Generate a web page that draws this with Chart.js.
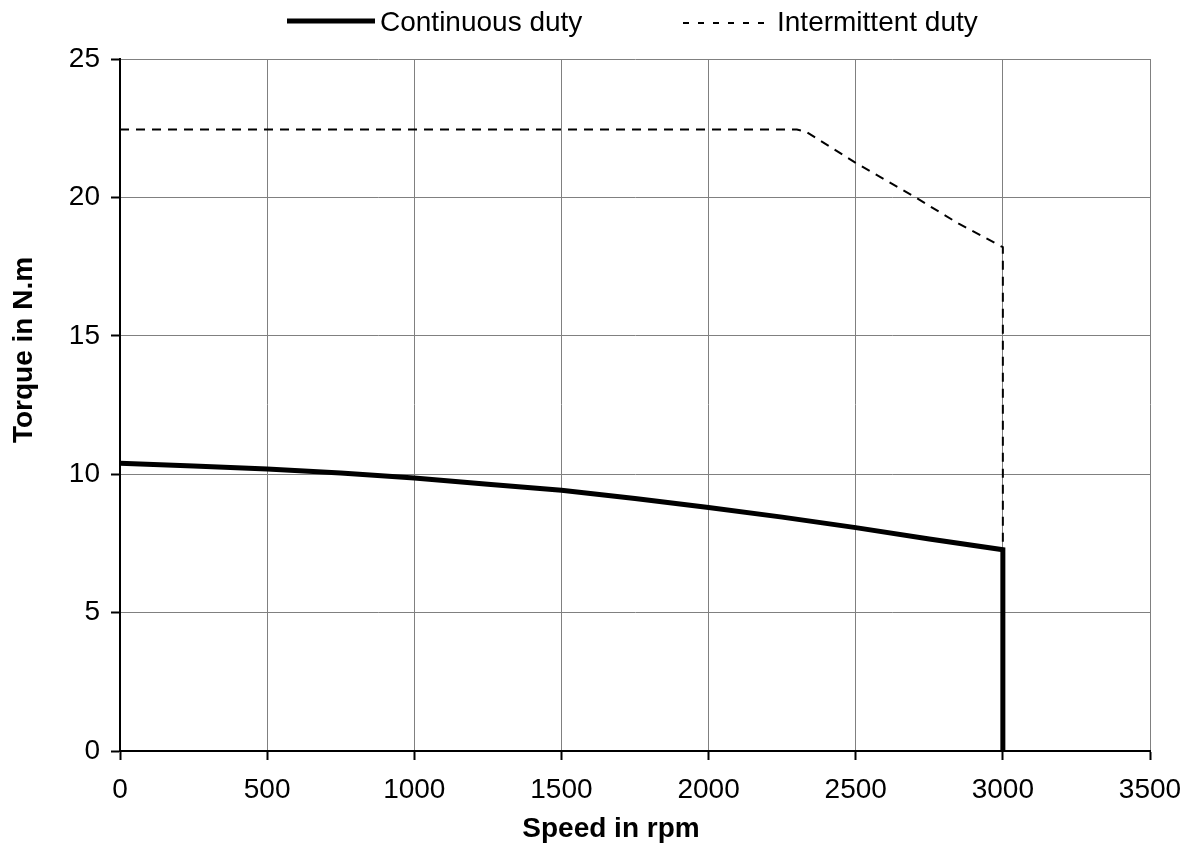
<!DOCTYPE html>
<html>
<head>
<meta charset="utf-8">
<script src="https://cdn.jsdelivr.net/npm/chart.js@4"></script>
<style>
  html, body { margin: 0; padding: 0; background: #fff; }
</style>
</head>
<body>
<canvas id="torqueChart" width="1190" height="845"></canvas>
<script>
const continuousSpeed = [0, 250, 500, 750, 1000, 1250, 1500, 1750, 2000, 2250, 2500, 2750, 3000, 3000];
const continuousTorque = [10.4, 10.3, 10.19, 10.04, 9.86, 9.64, 9.42, 9.12, 8.8, 8.45, 8.07, 7.66, 7.27, 0];
const intermittentSpeed = [0, 2300, 2330, 2500, 2700, 2850, 3000, 3000];
const intermittentTorque = [22.45, 22.45, 22.38, 21.25, 20.02, 19.05, 18.2, 7.27];
const xTicks = [0, 500, 1000, 1500, 2000, 2500, 3000, 3500];
const yTicks = [0, 5, 10, 15, 20, 25];

const FONT = "'Liberation Sans', Arial, sans-serif";
const toPoints = (xs, ys) => xs.map((x, i) => ({ x, y: ys[i] }));

// legend + axis titles drawn by hand so they sit where the original puts them
const legendLayout = [
    { x0: 287, x1: 375, y: 21, text: 380, dash: [] },
    { x0: 683, x1: 768, y: 23, text: 777, dash: [6, 9] }
];
const overlay = {
    id: 'overlay',
    afterDraw(chart) {
        const ctx = chart.ctx;
        ctx.save();
        ctx.fillStyle = '#000';
        ctx.strokeStyle = '#000';
        ctx.textBaseline = 'middle';
        ctx.font = `28px ${FONT}`;
        chart.data.datasets.forEach((ds, i) => {
            const l = legendLayout[i];
            ctx.lineWidth = ds.borderWidth;
            ctx.setLineDash(l.dash);
            ctx.beginPath();
            ctx.moveTo(l.x0, l.y);
            ctx.lineTo(l.x1, l.y);
            ctx.stroke();
            ctx.textAlign = 'left';
            ctx.fillText(ds.label, l.text, 23.5);
        });
        ctx.setLineDash([]);
        ctx.font = `bold 28px ${FONT}`;
        ctx.textAlign = 'center';
        ctx.fillText('Speed in rpm', 611, 829);
        ctx.translate(24, 350);
        ctx.rotate(-Math.PI / 2);
        ctx.fillText('Torque in N.m', 0, 0);
        ctx.restore();
    }
};

new Chart(document.getElementById('torqueChart'), {
    type: 'scatter',
    data: {
        datasets: [
            {
                label: 'Continuous duty',
                data: toPoints(continuousSpeed, continuousTorque),
                showLine: true,
                borderColor: '#000',
                backgroundColor: '#000',
                borderWidth: 5,
                pointRadius: 0,
                tension: 0
            },
            {
                label: 'Intermittent duty',
                data: toPoints(intermittentSpeed, intermittentTorque),
                showLine: true,
                borderColor: '#000',
                backgroundColor: '#000',
                borderWidth: 2,
                borderDash: [9, 7],
                pointRadius: 0,
                tension: 0
            }
        ]
    },
    plugins: [overlay],
    options: {
        responsive: false,
        animation: false,
        layout: { padding: { top: 59, right: 40, bottom: 0, left: 0 } },
        plugins: {
            tooltip: { enabled: false },
            legend: { display: false }
        },
        scales: {
            x: {
                type: 'linear',
                min: 0,
                max: 3500,
                afterBuildTicks: s => { s.ticks = xTicks.map(v => ({ value: v })); },
                afterFit: s => { s.height = 94; s.paddingRight = 0; s.paddingLeft = 0; },
                ticks: { color: '#000', font: { family: FONT, size: 28 }, padding: 13, maxRotation: 0, callback: v => String(v) },
                grid: { color: '#808080', lineWidth: 1, tickColor: '#000', tickWidth: 2, tickLength: 9 },
                border: { color: '#000', width: 2 }
            },
            y: {
                type: 'linear',
                min: 0,
                max: 25,
                afterBuildTicks: s => { s.ticks = yTicks.map(v => ({ value: v })); },
                afterFit: s => { s.width = 120; },
                ticks: { color: '#000', font: { family: FONT, size: 28 }, padding: 11, callback: v => String(v) },
                grid: { color: '#808080', lineWidth: 1, tickColor: '#000', tickWidth: 2, tickLength: 9 },
                border: { color: '#000', width: 2 }
            }
        }
    }
});
</script>
</body>
</html>
